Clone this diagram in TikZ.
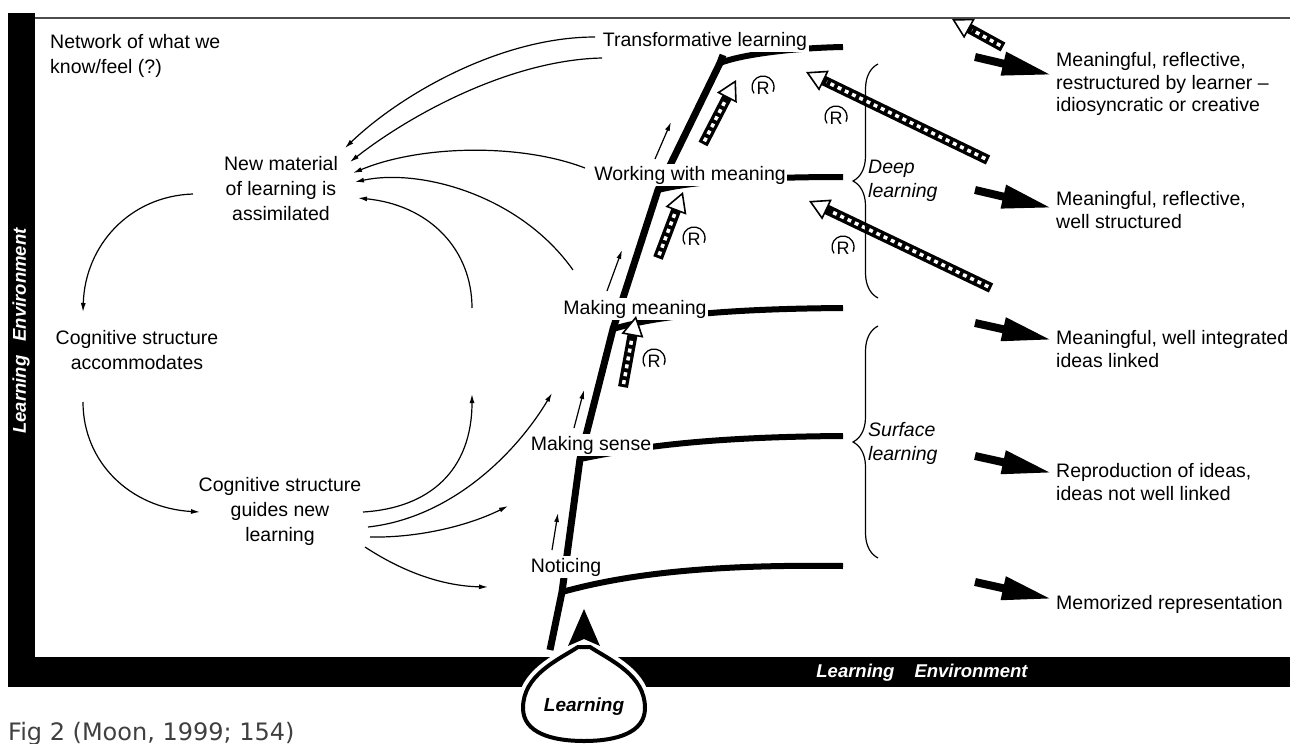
\documentclass[tikz,border=0pt]{standalone}
\usepackage{fontspec}
\setmainfont{Liberation Sans}
\newfontfamily\capfont{DejaVu Sans}
\usetikzlibrary{arrows.meta,decorations.pathreplacing}
\newcommand\stripedarrow[2]{%
  \draw[line width=10pt,-{Triangle[length=20pt,width=22pt,fill=white,line width=1.6pt]}] (#1) -- (#2);
  \draw[white,line width=3.5pt,dash pattern=on 4pt off 4pt,shorten <=3pt,shorten >=23pt] (#1) -- (#2);
}
\begin{document}
\begin{tikzpicture}[x=1pt,y=-1pt,
  txt/.style={font=\fontsize{19.5}{25}\selectfont, inner sep=0pt, align=center},
  rtxt/.style={font=\fontsize{19.5}{22.5}\selectfont, inner sep=0pt, align=left, anchor=west},
  lvl/.style={font=\fontsize{19.5}{23}\selectfont, inner sep=1.5pt, fill=white},
  barlbl/.style={font=\bfseries\itshape\fontsize{18.5}{18.5}\selectfont, text=white, inner sep=0pt},
  spine/.style={line width=7pt, line join=round},
  branch/.style={line width=6pt},
  thinarr/.style={line width=1.2pt, -{Latex[length=9pt,width=5pt]}},
  bigarrow/.style={line width=8pt, -{Triangle[length=50pt,width=22pt]}},
  brc/.style={line width=1.2pt, decorate, decoration={brace, amplitude=25pt}},
  rmark/.pic={\begin{scope}[yscale=-1]
      \node[inner sep=0pt,font=\fontsize{18}{18}\selectfont] at (0,-1) {R};
      \draw[line width=1.3pt] (215:11) arc[start angle=215,end angle=-25,radius=11];
    \end{scope}},
]
\useasboundingbox (0,0) rectangle (1290,744);
% ---------- frame ----------
\fill (8,13) rectangle (35,687);
\fill (8,657) rectangle (1290,687);
\draw[line width=2pt,black!70] (35,18) -- (1290,18);
\node[barlbl,rotate=90] (envL) at (21,331) {Learning\hspace{14pt}Environment};
\node[barlbl] (envB) at (922,673) {Learning\hspace{20pt}Environment};
% ---------- learning drop ----------
\draw[white,line width=12pt,line join=round] (578,647) .. controls (558,660) and (523,675) .. (523,708) .. controls (523,733) and (552,741) .. (584,741) .. controls (616,741) and (645,733) .. (645,708) .. controls (645,675) and (610,660) .. (590,647);
\draw[line width=4pt,fill=white,line join=round] (578,647) .. controls (558,660) and (523,675) .. (523,708) .. controls (523,733) and (552,741) .. (584,741) .. controls (616,741) and (645,733) .. (645,708) .. controls (645,675) and (610,660) .. (590,647) -- cycle;
\fill (584,609) -- (600,646) -- (584,639) -- (568,646) -- cycle;
\node[font=\bfseries\itshape\fontsize{19}{19}\selectfont, inner sep=0pt] (learn) at (584,707) {Learning};
% ---------- spine and branches ----------
\coordinate (sb) at (550,650);
\coordinate (j0) at (562,592);
\coordinate (j1) at (580,459);
\coordinate (j2) at (613,329);
\coordinate (j3) at (658,190);
\coordinate (j4) at (720,63);
\coordinate (st) at (723,55);
\coordinate (e0) at (843,566);
\coordinate (e1) at (843,436);
\coordinate (e2) at (843,308);
\coordinate (e3) at (843,177);
\coordinate (e4) at (843,47);
\draw[spine] (sb) -- (j0) -- (j1) -- (j2) -- (j3) -- (j4) -- (st);
\draw[branch] (j0) .. controls (620,576) and (700,564) .. (e0);
\draw[branch] (j1) .. controls (625,450) and (690,437) .. (e1);
\draw[branch] (j2) .. controls (650,318) and (710,309) .. (e2);
\draw[branch] (j3) .. controls (690,182) and (750,177) .. (e3);
\draw[branch] (j4) .. controls (740,55) and (790,48) .. (e4);
\node[lvl] (tl) at (705,41) {Transformative learning};
\node[lvl] (wm) at (690,175) {Working with meaning};
\node[lvl] (mm) at (635,309) {Making meaning};
\node[lvl] (ms) at (591,445) {Making sense};
\node[lvl] (no) at (566,567) {Noticing};
% ---------- small up arrows along spine ----------
\coordinate (u0s) at (552,550); \coordinate (u0t) at (558,513);
\coordinate (u1s) at (574,428); \coordinate (u1t) at (584,390);
\coordinate (u2s) at (607,291); \coordinate (u2t) at (622,250);
\coordinate (u3s) at (655,159); \coordinate (u3t) at (671,122);
\draw[thinarr] (u0s) -- (u0t);
\draw[thinarr] (u1s) -- (u1t);
\draw[thinarr] (u2s) -- (u2t);
\draw[thinarr] (u3s) -- (u3t);
% ---------- striped reflection arrows ----------
\coordinate (s1s) at (623,387); \coordinate (s1t) at (636,316);
\coordinate (s2s) at (658,258); \coordinate (s2t) at (683,192);
\coordinate (s3s) at (703,144); \coordinate (s3t) at (736,80);
\coordinate (s4s) at (988,160); \coordinate (s4t) at (806,72);
\coordinate (s5s) at (991,288); \coordinate (s5t) at (809,201);
\coordinate (s6s) at (1003,47); \coordinate (s6t) at (952,19);
\stripedarrow{s1s}{s1t}
\stripedarrow{s2s}{s2t}
\stripedarrow{s3s}{s3t}
\stripedarrow{s4s}{s4t}
\stripedarrow{s5s}{s5t}
\stripedarrow{s6s}{s6t}
\pic (r1) at (654,360) {rmark};
\pic (r2) at (694,238) {rmark};
\pic (r3) at (763,87) {rmark};
\pic (r4) at (836,117) {rmark};
\pic (r5) at (843,247) {rmark};
% ---------- braces ----------
\draw[brc] (878,298) -- (878,64);
\draw[brc] (878,558) -- (878,326);
\node[rtxt,font=\itshape\fontsize{19.5}{24}\selectfont] (deep) at (868,181) {Deep\\learning};
\node[rtxt,font=\itshape\fontsize{19.5}{24}\selectfont] (surf) at (868,443) {Surface\\learning};
% ---------- outcome arrows and texts ----------
\node[rtxt] (o1) at (1056,84) {Meaningful, reflective,\\restructured by learner –\\idiosyncratic or creative};
\node[rtxt] (o2) at (1056,210) {Meaningful, reflective,\\well structured};
\node[rtxt] (o3) at (1056,349) {Meaningful, well integrated\\ideas linked};
\node[rtxt] (o4) at (1056,482) {Reproduction of ideas,\\ideas not well linked};
\node[rtxt] (o5) at (1056,604) {Memorized representation};
\coordinate (a1s) at (975,57);  \coordinate (a1t) at (1052,75);
\coordinate (a2s) at (975,190); \coordinate (a2t) at (1052,208);
\coordinate (a3s) at (975,323); \coordinate (a3t) at (1052,340);
\coordinate (a4s) at (975,456); \coordinate (a4t) at (1052,473);
\coordinate (a5s) at (975,582); \coordinate (a5t) at (1052,599);
\draw[bigarrow] (a1s) -- (a1t);
\draw[bigarrow] (a2s) -- (a2t);
\draw[bigarrow] (a3s) -- (a3t);
\draw[bigarrow] (a4s) -- (a4t);
\draw[bigarrow] (a5s) -- (a5t);
% ---------- left texts ----------
\node[txt,align=left,anchor=west] (net) at (50,56) {Network of what we\\know/feel (?)};
\node[txt] (nm) at (281,189) {New material\\of learning is\\assimilated};
\node[txt] (ca) at (137,350) {Cognitive structure\\accommodates};
\node[txt] (cg) at (280,511) {Cognitive structure\\guides new\\learning};
% ---------- cycle arrows ----------
\coordinate (l1s) at (193,194); \coordinate (l1t) at (83,312);
\coordinate (l2s) at (83,402);  \coordinate (l2t) at (200,512);
\coordinate (l3s) at (363,512); \coordinate (l3t) at (472,394);
\coordinate (l4s) at (472,308);
\coordinate (na) at (345,148);
\coordinate (nb) at (350,162);
\coordinate (nc) at (353,173);
\coordinate (nd) at (355,182);
\coordinate (ne) at (358,198);
\draw[thinarr] (l1s) .. controls (130,196) and (85,245) .. (l1t);
\draw[thinarr] (l2s) .. controls (83,462) and (130,508) .. (l2t);
\draw[thinarr] (l3s) .. controls (430,508) and (472,470) .. (l3t);
\draw[thinarr] (l4s) .. controls (472,250) and (430,205) .. (ne);
% ---------- arrows from levels to new material ----------
\coordinate (ta) at (595,37);
\coordinate (tb) at (602,58);
\coordinate (wc) at (585,168);
\coordinate (wd) at (573,270);
\draw[thinarr] (ta) .. controls (500,37) and (400,95) .. (na);
\draw[thinarr] (tb) .. controls (510,60) and (410,115) .. (nb);
\draw[thinarr] (wc) .. controls (520,143) and (420,145) .. (nc);
\draw[thinarr] (wd) .. controls (520,195) and (420,168) .. (nd);
% ---------- arrows from guides to spine ----------
\coordinate (g2s) at (368,527); \coordinate (g2t) at (552,393);
\coordinate (g3s) at (370,537); \coordinate (g3t) at (508,506);
\coordinate (g4s) at (365,547); \coordinate (g4t) at (488,587);
\draw[thinarr] (g2s) .. controls (450,518) and (515,455) .. (g2t);
\draw[thinarr] (g3s) .. controls (420,538) and (470,525) .. (g3t);
\draw[thinarr] (g4s) .. controls (400,570) and (440,586) .. (g4t);
% ---------- caption ----------
\node[font=\capfont\fontsize{24}{24}\selectfont, text=black!75, anchor=base west, inner sep=0pt] (cap) at (8,740) {Fig 2 (Moon, 1999; 154)};
\end{tikzpicture}
\end{document}
